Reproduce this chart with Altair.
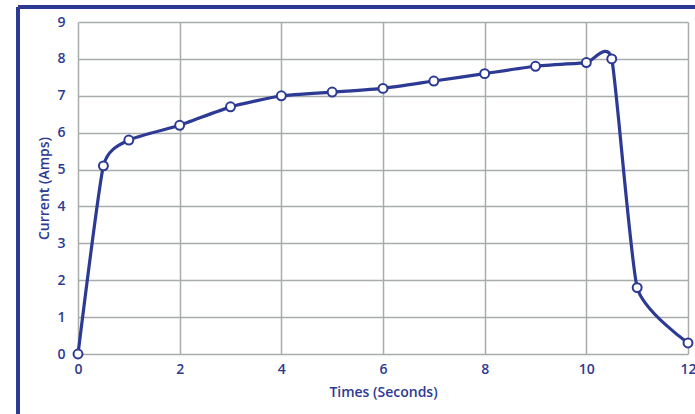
import altair as alt
import pandas as pd

times = [0, 0.5, 1, 2, 3, 4, 5, 6, 7, 8, 9, 10, 10.5, 11, 12]
current = [0, 5.1, 5.8, 6.2, 6.7, 7.0, 7.1, 7.2, 7.4, 7.6, 7.8, 7.9, 8.0, 1.8, 0.3]
x_ticks = [0, 2, 4, 6, 8, 10, 12]
y_ticks = [0, 1, 2, 3, 4, 5, 6, 7, 8, 9]

df = pd.DataFrame({"t": times, "c": current})

NAVY = "#2d3a93"
GRID = "#a8adab"
FONT = "Open Sans"

x = alt.X("t:Q", scale=alt.Scale(domain=[0, 12], nice=False),
          axis=alt.Axis(values=x_ticks, title="Times (Seconds)", grid=True, ticks=False,
                        domain=False, labelPadding=8, titlePadding=9, labelFlush=False))
y = alt.Y("c:Q", scale=alt.Scale(domain=[0, 9], nice=False),
          axis=alt.Axis(values=y_ticks, title="Current  (Amps)", grid=True, ticks=False,
                        domain=False, labelPadding=13, titlePadding=5, labelFlush=False))

base = alt.Chart(df).encode(x=x, y=y)
line = base.mark_line(color=NAVY, strokeWidth=3.2, interpolate="cardinal", tension=0.5)
pts = base.mark_point(filled=True, fill="white", stroke=NAVY, strokeWidth=2,
                      size=80, opacity=1)

frame_top = alt.Chart(df).mark_rule(color=NAVY, strokeWidth=3).encode(
    x=alt.value(-60), x2=alt.value(700), y=alt.value(-15))
frame_left = alt.Chart(df).mark_rule(color=NAVY, strokeWidth=3).encode(
    x=alt.value(-60), y=alt.value(-15), y2=alt.value(420))

chart = alt.layer(line, pts, frame_top, frame_left).properties(
    width=610, height=332,
    autosize=alt.AutoSizeParams(type="none"),
    padding={"left": 78, "top": 22, "right": 7, "bottom": 60},
    background="white",
).configure_view(stroke=None).configure_axis(
    gridColor=GRID, gridWidth=1.5, gridOpacity=1,
    labelColor=NAVY, labelFont=FONT, labelFontSize=14, labelFontWeight=600,
    titleColor=NAVY, titleFont=FONT, titleFontSize=14, titleFontWeight=600,
)

chart.save("out.html", embed_options={"renderer": "svg", "actions": False})
